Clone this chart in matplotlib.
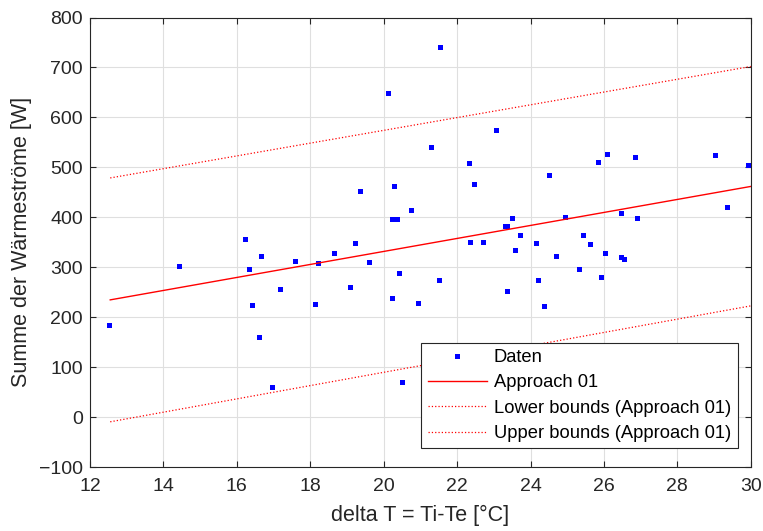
"""
Wärmeströme vs. delta T mit linearer Regression und Grenzen
"""

import numpy as np
import matplotlib

matplotlib.use("Agg")
import matplotlib.pyplot as plt

plt.rcParams["font.family"] = ["Liberation Sans", "DejaVu Sans"]

delta_t = [
    12.52, 14.42, 16.21, 16.32, 16.41, 16.60, 16.67, 16.95, 17.17, 17.57,
    18.13, 18.22, 18.64, 19.09, 19.21, 19.35, 19.61, 20.13, 20.22, 20.22,
    20.27, 20.35, 20.43, 20.51, 20.74, 20.94, 21.30, 21.51, 21.54, 22.33,
    22.34, 22.47, 22.70, 23.05, 23.30, 23.36, 23.35, 23.50, 23.59, 23.70,
    24.14, 24.20, 24.37, 24.50, 24.70, 24.95, 25.32, 25.43, 25.61, 25.85,
    25.93, 26.03, 26.09, 26.47, 26.54, 26.47, 26.85, 26.91, 29.03, 29.35,
    29.93,
]
waerme = [
    185, 303, 357, 296, 225, 161, 323, 61, 257, 313,
    226, 309, 329, 261, 349, 453, 311, 649, 239, 396,
    463, 397, 289, 71, 414, 229, 541, 274, 742, 509,
    350, 467, 351, 575, 383, 383, 252, 399, 335, 365,
    349, 275, 223, 485, 322, 400, 296, 365, 347, 511,
    281, 328, 526, 321, 317, 409, 521, 398, 525, 421,
    504,
]

# Approach 01 und Grenzen (Endpunkte)
fit_x = [12.55, 30.0]
fit_y = [235, 462]
lower_y = [-9, 223]
upper_y = [479, 702]

fig = plt.figure(figsize=(7.63, 5.31), dpi=100)
ax = fig.add_axes([0.118, 0.120, 0.866, 0.847])

ax.plot(delta_t, waerme, "s", color="blue", markersize=3.6, markeredgewidth=0, label="Daten")
ax.plot(fit_x, fit_y, "-", color="red", lw=1.0, label="Approach 01")
ax.plot(fit_x, lower_y, ":", color="red", lw=0.9, label="Lower bounds (Approach 01)")
ax.plot(fit_x, upper_y, ":", color="red", lw=0.9, label="Upper bounds (Approach 01)")

ax.set_xlim(12, 30)
ax.set_ylim(-100, 800)
ax.set_xticks(np.arange(12, 31, 2))
ax.set_yticks(np.arange(-100, 801, 100))
ax.grid(True, color="#dfdfdf", lw=0.8)
ax.set_axisbelow(True)

for s in ax.spines.values():
    s.set_color("#262626")
    s.set_linewidth(0.8)
ax.tick_params(direction="in", top=True, right=True, length=4, width=0.8,
               color="#262626", labelsize=14, labelcolor="#262626")
ax.tick_params(axis="x", pad=8)
ax.tick_params(axis="y", pad=5)

ax.set_xlabel("delta T = Ti-Te [°C]", fontsize=15.5, color="#262626", labelpad=7)
ax.set_ylabel("Summe der Wärmeströme [W]", fontsize=15.5, color="#262626", labelpad=5)

leg = ax.legend(loc="lower right", bbox_to_anchor=(0.980, 0.042), borderaxespad=0,
                fontsize=13.2, fancybox=False, edgecolor="#262626", framealpha=1,
                handlelength=3.2, handletextpad=0.4, borderpad=0.35, labelspacing=0.45)
leg.get_frame().set_linewidth(0.8)

fig.savefig("out.png", dpi=100)
